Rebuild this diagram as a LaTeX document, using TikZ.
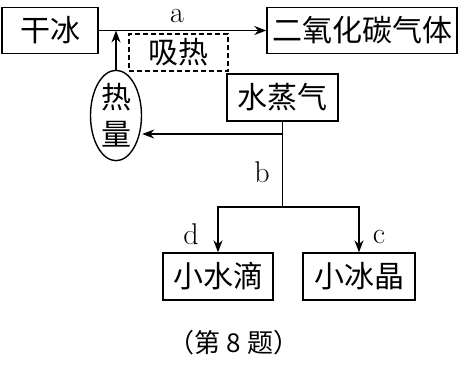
\documentclass[tikz,border=0pt]{standalone}
\usepackage{fontspec}
\newfontfamily\cjk{Noto Sans CJK SC}
\usetikzlibrary{arrows.meta,shapes.geometric}
\begin{document}
\begin{tikzpicture}[x=1pt,y=-1pt,
  box/.style={draw,line width=1.4pt,minimum height=46pt,inner sep=0pt,font=\cjk\fontsize{30}{32}\selectfont},
  dbox/.style={draw,dashed,dash pattern=on 5pt off 3pt,line width=1.3pt,minimum width=99pt,minimum height=37pt,inner sep=0pt,font=\cjk\fontsize{30}{32}\selectfont},
  lab/.style={font=\fontsize{30}{32}\selectfont,inner sep=0pt},
  conn/.style={line width=1.4pt},
  arr/.style={line width=1.4pt,-{Stealth[length=12pt,width=9pt]}}]
\useasboundingbox (0,0) rectangle (461,368);
\node[box,minimum width=96pt] (gb) at (50,30.5) {干冰};
\node[box,minimum width=190pt] (co) at (362,30.5) {二氧化碳气体};
\node[dbox] (xr) at (178.5,52.5) {吸热};
\node[draw,ellipse,line width=1.4pt,minimum width=51pt,minimum height=83pt,inner sep=0pt,align=center,font=\cjk\fontsize{30}{37}\selectfont] (rl) at (116,115.5) {热\\量};
\node[box,minimum width=111pt,minimum height=47pt] (sz) at (282.5,97.5) {水蒸气};
\node[box,minimum width=110pt,minimum height=47pt] (sd) at (218,276.5) {小水滴};
\node[box,minimum width=112pt,minimum height=47pt] (bj) at (359,276.5) {小冰晶};
\node[font=\cjk\fontsize{26}{28}\selectfont,inner sep=0pt] (cap) at (234,343) {（第 8 题）};
\coordinate (br) at (sz.south |- 0,207);
\coordinate (hj) at (sz.south |- 0,134);
\draw[arr] (gb.east) -- (co.west);
\draw[arr] (rl.north) -- (rl.north |- gb.east);
\draw[conn] (sz.south) -- (br);
\draw[arr] (hj) -- (rl.east |- hj);
\draw[arr] (br) -| (sd.north);
\draw[arr] (br) -| (bj.north);
\node[lab] (la) at (177,15.5) {a};
\node[lab] (lb) at (262,172) {b};
\node[lab] (ld) at (191,234) {d};
\node[lab] (lc) at (379,237) {c};
\end{tikzpicture}
\end{document}
